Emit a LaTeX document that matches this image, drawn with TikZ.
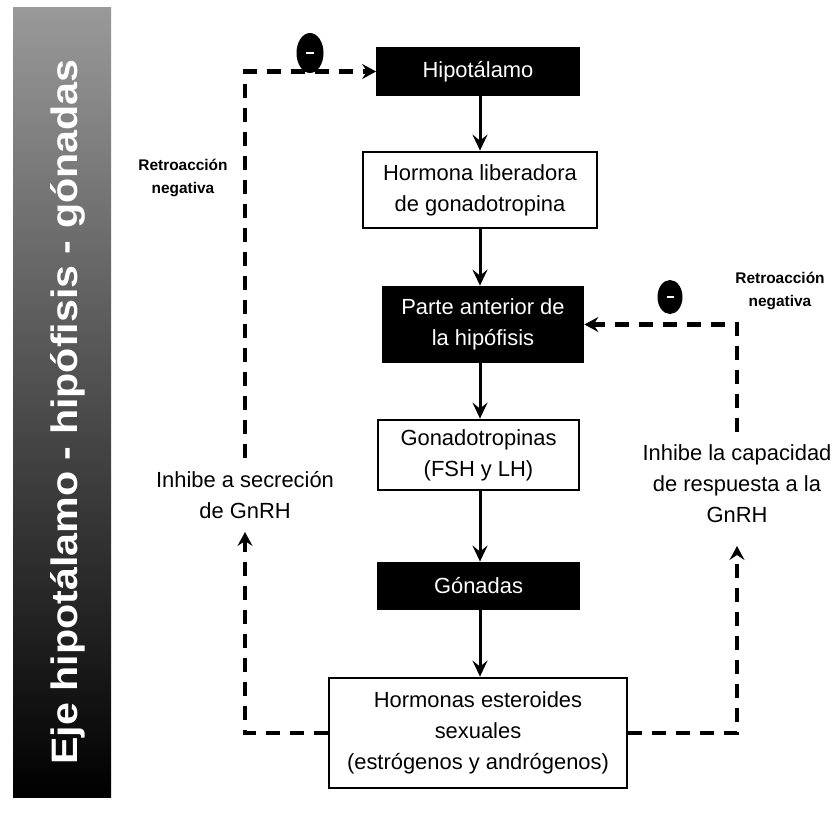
\documentclass[tikz,border=0pt]{standalone}
\usepackage{fontspec}
\usepackage{graphicx}
\setmainfont{Liberation Sans}
\usetikzlibrary{arrows.meta,shapes.geometric}
\begin{document}
\begin{tikzpicture}[x=1bp,y=-1bp,
  box/.style={draw=black, line width=2.8bp, fill=white, inner sep=0pt, align=center, font=\fontsize{22}{31}\selectfont},
  bbox/.style={box, fill=black, text=white},
  arr/.style={line width=3bp, -{Stealth[length=16bp,width=15bp,inset=6bp]}},
  fb/.style={line width=4.5bp, dash pattern=on 14bp off 10bp},
  fbarr/.style={fb, -{Stealth[length=14bp,width=15bp,inset=5bp]}},
  lbl/.style={align=center, font=\fontsize{22}{31}\selectfont, inner sep=0pt},
  small/.style={align=center, font=\bfseries\fontsize{15.5}{24}\selectfont, inner sep=0pt},
  minus/.style={ellipse, fill=black, inner sep=0pt, text=white}
]
\useasboundingbox (0,0) rectangle (834,813);

% side banner
\shade[top color=black!40, middle color=black!85, bottom color=black] (13,8) rectangle (111,797);
\node[rotate=90, text=white, inner sep=0pt] (ttl) at (68,412)
  {\resizebox{705bp}{27bp}{\bfseries Eje hipotálamo - hipófisis - gónadas}};

% main column
\node[bbox, minimum width=201bp, minimum height=47bp] (hip) at (478,71.5) {Hipotálamo};
\node[box, minimum width=234bp, minimum height=76bp] (hor) at (480,190) {Hormona liberadora\\de gonadotropina};
\node[bbox, minimum width=200bp, minimum height=75bp] (pa) at (483,324.5) {Parte anterior de\\la hipófisis};
\node[box, minimum width=201bp, minimum height=70bp] (gt) at (478.5,455) {Gonadotropinas\\(FSH y LH)};
\node[bbox, minimum width=201bp, minimum height=46bp] (gon) at (478.5,586) {Gónadas};
\node[box, minimum width=298bp, minimum height=110bp] (est) at (478,733) {Hormonas esteroides\\sexuales\\(estrógenos y andrógenos)};

\draw[arr] (hip.south -| 480,0) -- (hor.north -| 480,0);
\draw[arr] (hor.south -| 480,0) -- (pa.north -| 480,0);
\draw[arr] (pa.south -| 480,0) -- (gt.north -| 480,0);
\draw[arr] (gt.south -| 480,0) -- (gon.north -| 480,0);
\draw[arr] (gon.south -| 480,0) -- (est.north -| 480,0);

% labels
\node[small] (rl) at (183,178) {Retroacción\\negativa};
\node[small] (rr) at (780,291) {Retroacción\\negativa};
\node[lbl] (linh) at (245,495) {Inhibe a secreción\\de GnRH};
\node[lbl] (rinh) at (737,484) {Inhibe la capacidad\\de respuesta a la\\GnRH};

% minus signs
\node[minus, minimum width=27bp, minimum height=40bp] (m1) at (310,53) {\rule{8bp}{2.5bp}};
\node[minus, minimum width=25bp, minimum height=34bp] (m2) at (670,297) {\rule{7bp}{2.5bp}};

% feedback coordinates
\coordinate (ltop) at (245,458);
\coordinate (ltip) at (245,532);
\coordinate (rtop) at (737,432);
\coordinate (rtip) at (737,546);

\draw[fbarr] (ltop) -- (ltop |- hip.west) -- (hip.west);
\draw[fbarr] (est.west) -- (est.west -| ltip) -- (ltip);
\draw[fbarr] (rtop) -- (rtop |- pa.east) -- (pa.east);
\draw[fbarr] (est.east) -- (est.east -| rtip) -- (rtip);
\end{tikzpicture}
\end{document}
